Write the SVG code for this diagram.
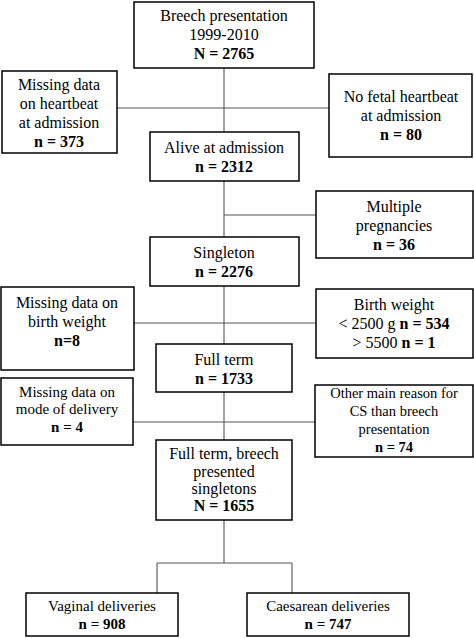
<svg xmlns="http://www.w3.org/2000/svg" width="474" height="638" viewBox="0 0 474 638">
<style>
.box{fill:#fff;stroke:#000;stroke-width:1.5}
.c{fill:none;stroke:#555;stroke-width:1.1}
text{font-family:"Liberation Serif","Times New Roman",serif;font-size:16px;fill:#000;text-anchor:middle}
.b{font-weight:bold}
.s{font-size:14.5px}
.m{font-size:15px}
</style>
<rect width="474" height="638" fill="#fff"/>
<g id="connectors">
<path class="c" d="M224 68V132M117 108H329"/>
<path class="c" d="M224 181V237M224 215H316"/>
<path class="c" d="M224 286V344M134 323H316"/>
<path class="c" d="M224 392V440M133 422H315"/>
<path class="c" d="M224 520V563M157 563H292M157 563V593M292 563V593"/>
</g>
<g id="n1"><rect class="box" x="134" y="2" width="180" height="66"/>
<text x="224" y="21">Breech presentation</text><text x="224" y="40">1999-2010</text><text class="b" x="224" y="59">N = 2765</text></g>
<g id="n2"><rect class="box" x="2" y="71" width="115" height="82"/>
<text x="59" y="90">Missing data</text><text x="59" y="109">on heartbeat</text><text x="59" y="128">at admission</text><text class="b" x="59" y="147">n = 373</text></g>
<g id="n3"><rect class="box" x="329" y="74" width="143" height="83"/>
<text x="401" y="102">No fetal heartbeat</text><text x="401" y="121">at admission</text><text class="b" x="401" y="140">n = 80</text></g>
<g id="n4"><rect class="box" x="150" y="132" width="149" height="49"/>
<text x="224" y="153">Alive at admission</text><text class="b" x="224" y="172">n = 2312</text></g>
<g id="n5"><rect class="box" x="316" y="191" width="157" height="67"/>
<text x="394" y="212">Multiple</text><text x="394" y="231">pregnancies</text><text class="b" x="394" y="250">n = 36</text></g>
<g id="n6"><rect class="box" x="150" y="237" width="149" height="49"/>
<text x="224" y="258">Singleton</text><text class="b" x="224" y="277">n = 2276</text></g>
<g id="n7"><rect class="box" x="1" y="287" width="133" height="83"/>
<text x="67" y="308">Missing data on</text><text x="67" y="327">birth weight</text><text class="b" x="67" y="346">n=8</text></g>
<g id="n8"><rect class="box" x="316" y="289" width="157" height="69"/>
<text x="394" y="310">Birth weight</text><text x="394" y="329">&lt; 2500 g <tspan class="b">n = 534</tspan></text><text x="394" y="348">&gt; 5500 <tspan class="b">n = 1</tspan></text></g>
<g id="n9"><rect class="box" x="156" y="344" width="136" height="48"/>
<text x="224" y="365">Full term</text><text class="b" x="224" y="384">n = 1733</text></g>
<g id="n10"><rect class="box" x="1" y="378" width="132" height="67"/>
<text class="m" x="67" y="397">Missing data on</text><text class="m" x="67" y="414">mode of delivery</text><text class="b m" x="67" y="432">n = 4</text></g>
<g id="n11"><rect class="box" x="315" y="385" width="158" height="72"/>
<text class="s" x="394" y="398">Other main reason for</text><text class="s" x="394" y="416">CS than breech</text><text class="s" x="394" y="434">presentation</text><text class="b s" x="394" y="452">n = 74</text></g>
<g id="n12"><rect class="box" x="156" y="440" width="136" height="80"/>
<text x="224" y="459">Full term, breech</text><text x="224" y="477">presented</text><text x="224" y="494">singletons</text><text class="b" x="224" y="511">N = 1655</text></g>
<g id="n13"><rect class="box" x="26" y="593" width="152" height="43"/>
<text class="m" x="102" y="611">Vaginal deliveries</text><text class="b m" x="102" y="629">n = 908</text></g>
<g id="n14"><rect class="box" x="247" y="593" width="162" height="43"/>
<text class="m" x="328" y="611">Caesarean deliveries</text><text class="b m" x="328" y="629">n = 747</text></g>
</svg>
